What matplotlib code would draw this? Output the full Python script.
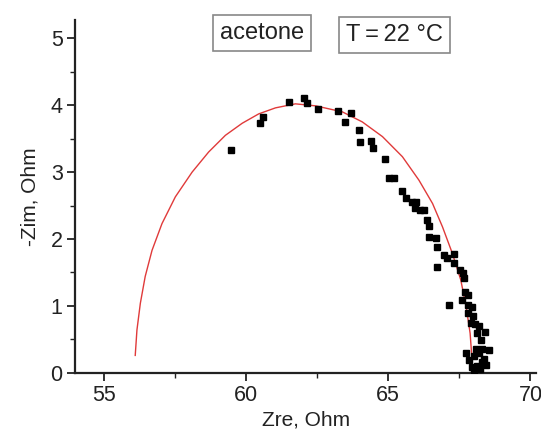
import matplotlib
matplotlib.use("Agg")
import matplotlib.pyplot as plt
from matplotlib.ticker import MultipleLocator

plt.rcParams['font.family'] = ['Liberation Sans', 'DejaVu Sans']

# measured data (Zre, -Zim)
zre = [59.47, 60.49, 60.61, 61.51, 62.04, 62.13, 62.54, 63.25, 63.50, 63.69,
       63.97, 64.00, 64.38, 64.48, 64.88, 65.03, 65.20, 65.48, 65.64, 65.85,
       65.99, 65.94, 66.11, 66.26, 66.38, 66.44, 66.44, 66.67, 66.70, 66.70,
       66.96, 67.08, 67.32, 67.30, 67.52, 67.63, 67.68, 67.14, 67.70, 67.79,
       67.61, 67.82, 67.94, 67.81, 67.99, 67.90, 68.06, 68.18, 68.12, 68.42,
       68.26, 68.09, 68.30, 68.54, 67.84, 68.01, 68.18, 67.94, 68.12, 68.30,
       68.45, 68.01, 68.21, 68.36, 67.75]
zim = [3.33, 3.74, 3.82, 4.05, 4.10, 4.03, 3.95, 3.92, 3.75, 3.89,
       3.63, 3.45, 3.47, 3.36, 3.20, 2.91, 2.91, 2.71, 2.62, 2.56,
       2.56, 2.46, 2.44, 2.43, 2.28, 2.19, 2.03, 2.02, 1.88, 1.58,
       1.76, 1.71, 1.77, 1.64, 1.54, 1.49, 1.41, 1.01, 1.21, 1.16,
       1.09, 1.01, 0.99, 0.89, 0.85, 0.74, 0.73, 0.70, 0.59, 0.61,
       0.49, 0.36, 0.36, 0.34, 0.19, 0.25, 0.29, 0.09, 0.10, 0.16,
       0.11, 0.04, 0.05, 0.21, 0.29]

# fitted curve
fit_re = [56.11, 56.17, 56.29, 56.46, 56.70, 57.05, 57.52, 58.11, 58.69, 59.28,
          59.87, 60.45, 61.04, 61.74, 62.45, 63.39, 64.09, 64.80, 65.50, 66.08,
          66.56, 66.91, 67.26, 67.55, 67.74, 67.88, 67.94]
fit_im = [0.26, 0.64, 1.04, 1.44, 1.83, 2.23, 2.63, 3.00, 3.30, 3.55,
          3.73, 3.87, 3.96, 4.02, 3.99, 3.90, 3.75, 3.53, 3.23, 2.88,
          2.53, 2.18, 1.78, 1.39, 0.99, 0.59, 0.24]

fig = plt.figure(figsize=(5.41, 4.30), dpi=100)
ax = fig.add_axes([0.139, 0.133, 0.852, 0.820])

ax.plot(fit_re, fit_im, color='#e03a3a', lw=1.0, zorder=2)
ax.plot(zre, zim, 's', color='black', ms=5.0, zorder=3)

ax.set_xlim(54.0, 70.2)
ax.set_ylim(0, 5.27)
ax.xaxis.set_major_locator(MultipleLocator(5))
ax.xaxis.set_minor_locator(MultipleLocator(2.5))
ax.yaxis.set_major_locator(MultipleLocator(1))
ax.yaxis.set_minor_locator(MultipleLocator(0.5))

for s in ['top', 'right']:
    ax.spines[s].set_visible(False)
for s in ['left', 'bottom']:
    ax.spines[s].set_linewidth(1.6)
    ax.spines[s].set_color('#222222')

ax.tick_params(which='major', direction='out', length=6, width=1.3,
               labelsize=15.5, colors='#222222', pad=3)
ax.tick_params(which='minor', direction='out', length=3.5, width=1.0, colors='#222222')

ax.set_xlabel('Zre, Ohm', fontsize=15, color='#222222', labelpad=3)
ax.set_ylabel('-Zim, Ohm', fontsize=15, color='#222222', labelpad=8)

bbox = dict(boxstyle='square,pad=0.3', facecolor='white', edgecolor='#888888', lw=1.2)
fig.text(0.484, 0.923, 'acetone', fontsize=17, ha='center', va='center',
         color='#222222', bbox=bbox)
fig.text(0.729, 0.918, 'T\u2009=\u200922 \u00b0C', fontsize=17, ha='center', va='center',
         color='#222222', bbox=bbox)

fig.savefig('out.png', dpi=100)
